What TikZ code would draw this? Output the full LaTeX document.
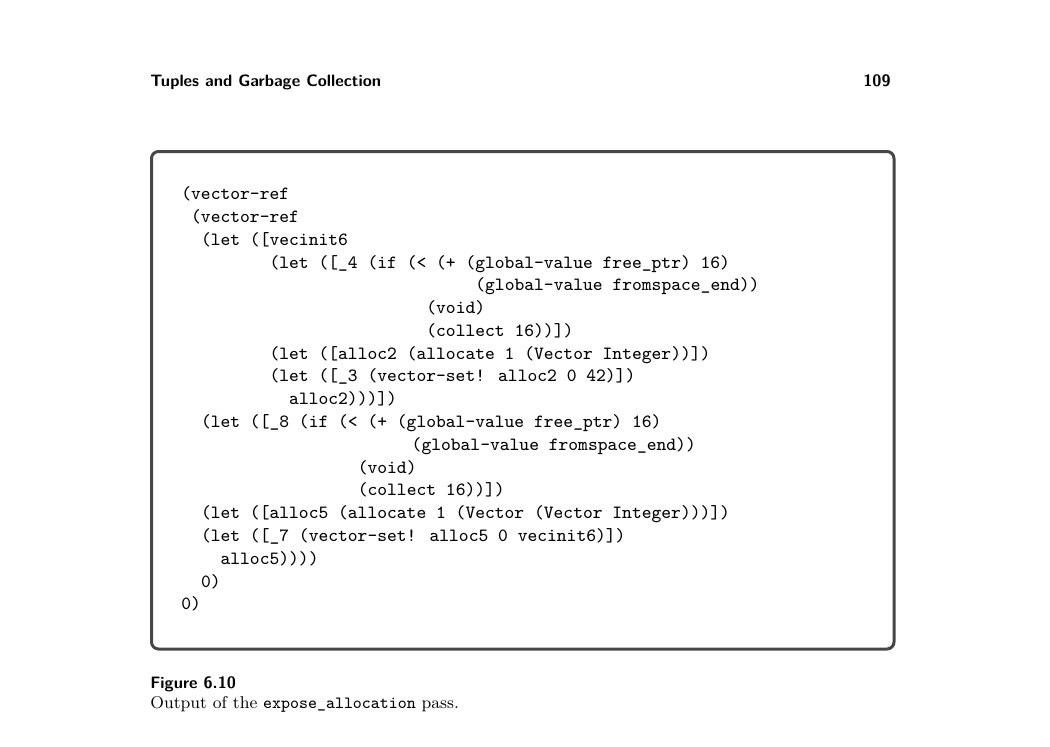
\documentclass[tikz,border=0pt]{standalone}
\usepackage{fontspec}
\begin{document}
\begin{tikzpicture}[x=0.5pt, y=-0.5pt]

			% Styles
			\tikzset{
				code/.style={
					anchor=base west, inner sep=0pt,
					font=\fontsize{9.33}{11.39}\selectfont\ttfamily,
				},
				head/.style={
					inner sep=0pt,
					font=\fontsize{8.25}{10}\selectfont\sffamily\bfseries,
				},
				frame/.style={
					draw=#1, line width=1.5pt,
					rounded corners=3.5pt,
				}
			}

			% Colors
			\definecolor{framegray}{RGB}{70,70,70}

			% Page size
			\useasboundingbox (0,0) rectangle (1050,746);

			% Running head
			\node[head, anchor=base west] (title) at (150,86) {Tuples and Garbage Collection};
			\node[head, anchor=base east] (page) at (891,86) {109};

			% Frame round the listing
			\node[frame=framegray, minimum width=371.25pt, minimum height=248.75pt] (listing) at (522.75,400.25) {};

			% Listing, one node per line
			\node[code] (vref1) at (181,199.7) {(vector-ref};
			\node[code] (vref2) at (190.8,222.5) {(vector-ref};
			\node[code] (letvec) at (200.6,245.3) {(let ([vecinit6};
			\node[code] (let4) at (269.2,268.0) {(let ([\_4 (if (< (+ (global-value free\_ptr) 16)};
			\node[code] (cmp4) at (475,290.8) {(global-value fromspace\_end))};
			\node[code] (void4) at (426,313.6) {(void)};
			\node[code] (collect4) at (426,336.4) {(collect 16))])};
			\node[code] (alloc2) at (269.2,359.2) {(let ([alloc2 (allocate 1 (Vector Integer))])};
			\node[code] (set3) at (269.2,381.9) {(let ([\_3 (vector-set! alloc2 0 42)])};
			\node[code] (ret2) at (288.8,404.7) {alloc2)))])};
			\node[code] (let8) at (200.6,427.5) {(let ([\_8 (if (< (+ (global-value free\_ptr) 16)};
			\node[code] (cmp8) at (411.3,450.3) {(global-value fromspace\_end))};
			\node[code] (void8) at (357.4,473.1) {(void)};
			\node[code] (collect8) at (357.4,495.8) {(collect 16))])};
			\node[code] (alloc5) at (200.6,518.6) {(let ([alloc5 (allocate 1 (Vector (Vector Integer)))])};
			\node[code] (set7) at (200.6,541.4) {(let ([\_7 (vector-set! alloc5 0 vecinit6)])};
			\node[code] (ret5) at (220.2,564.2) {alloc5))))};
			\node[code] (zero1) at (200.6,587.0) {0)};
			\node[code] (zero2) at (181,609.7) {0)};

			% Caption
			\node[head, anchor=base west] (fig) at (150,688.3) {Figure 6.10};
			\node[anchor=base west, inner sep=0pt, font=\fontsize{8.55}{10}\selectfont] (caption) at (150,708.3) {Output of the \texttt{expose\_allocation} pass.};

		\end{tikzpicture}
\end{document}
